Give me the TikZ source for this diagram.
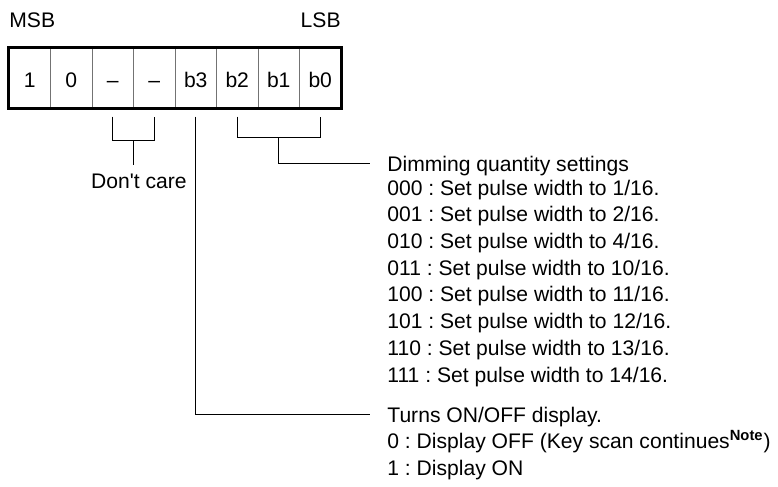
\documentclass[tikz,border=0pt]{standalone}
\usepackage{fontspec}
\setmainfont{Liberation Sans}
\usetikzlibrary{calc}

\begin{document}
\begin{tikzpicture}[x=0.5pt, y=-0.5pt,
    txt/.style={inner sep=0pt, font=\fontsize{10.55}{13.35}\selectfont\frenchspacing},
    lbl/.style={txt, inner xsep=8.5pt, align=left, execute at begin node=\strut},
    cell/.style={txt, draw=black!55, line width=0.5pt, text height=9pt, text depth=0pt,
                 minimum width=20.75pt, minimum height=30pt},
    wire/.style={line width=0.5pt}]

  % Definitions
  \def\xl{9}      % Left edge of register
  \def\cw{41.5}   % Width of one bit cell
  \def\yc{78}     % Middle of register
  \def\gap{8}     % Gap between register and brackets

  \useasboundingbox (0,0) rectangle (778,487);

  % Register
  \foreach \t/\n in {1/7, 0/6, \textendash/5, \textendash/4, b3/3, b2/2, b1/1, b0/0}
    \node [cell] (b\n) at ({\xl+\cw*(7.5-\n)},\yc) {\t};
  \draw [line width=1.4pt] (b7.north west) rectangle (b0.south east);

  \node [txt, anchor=base west] (msb) at (9,27) {MSB};
  \node [txt, anchor=base east] (lsb) at (341,27) {LSB};

  % Labels
  \node [lbl, anchor=base] (dc) at (139,188) {Don\textquotesingle t care};
  \node [lbl, anchor=base west] (dimhead) at (370,171) {Dimming quantity settings};
  \node [lbl, anchor=north west] (dimlist) at (dimhead.south west)
    {000 : Set pulse width to 1/16.\\
     001 : Set pulse width to 2/16.\\
     010 : Set pulse width to 4/16.\\
     011 : Set pulse width to 10/16.\\
     100 : Set pulse width to 11/16.\\
     101 : Set pulse width to 12/16.\\
     110 : Set pulse width to 13/16.\\
     111 : Set pulse width to 14/16.};
  \node [lbl, anchor=base west] (disphead) at (370,422) {Turns ON/OFF display.};
  \node [lbl, anchor=north west] (displist) at (disphead.south west)
    {0 : Display OFF (Key scan continues\textsuperscript{\textbf{Note}})\\
     1 : Display ON};

  % Brackets
  \draw [wire] ($(b5.south)+(0,\gap)$) -- ++(0,24) coordinate (dcl) -| ($(b4.south)+(0,\gap)$);
  \coordinate (dcm) at ($(b5.south)!.5!(b4.south)+(0,\gap+24)$);
  \draw [wire] (dcm) -- ($(dcm |- dc.north)+(0,-4)$);

  \draw [wire] ($(b2.south)+(0,\gap)$) -- ++(0,21) -| ($(b0.south)+(0,\gap)$);
  \draw [wire] ($(b2.south)!.5!(b0.south)+(0,\gap+21)$) |- ([yshift=4pt]dimhead.base west);

  \draw [wire] ($(b3.south)+(0,\gap)$) |- ([yshift=4pt]disphead.base west);

\end{tikzpicture}
\end{document}
